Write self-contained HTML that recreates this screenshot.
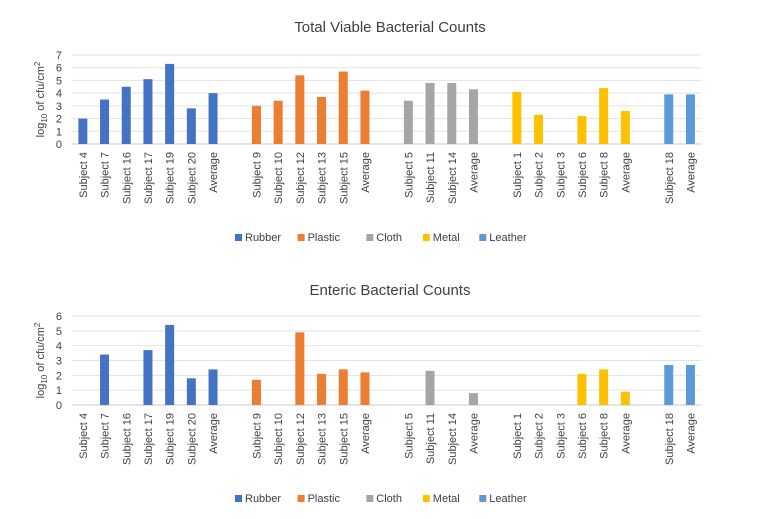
<!DOCTYPE html>
<html><head><meta charset="utf-8"><style>
body{margin:0;background:#fff;font-family:"Liberation Sans",sans-serif}
</style></head><body>
<svg id="svg" width="759" height="519" style="display:block"></svg>
<script>
const categories=[["Subject 4","Subject 7","Subject 16","Subject 17","Subject 19","Subject 20","Average"],["Subject 9","Subject 10","Subject 12","Subject 13","Subject 15","Average"],["Subject 5","Subject 11","Subject 14","Average"],["Subject 1","Subject 2","Subject 3","Subject 6","Subject 8","Average"],["Subject 18","Average"]];
const groupNames=["Rubber","Plastic","Cloth","Metal","Leather"];
const totalValues=[[2.0,3.5,4.5,5.1,6.3,2.8,4.0],[3.0,3.4,5.4,3.7,5.7,4.2],[3.4,4.8,4.8,4.3],[4.1,2.3,0,2.2,4.4,2.6],[3.9,3.9]];
const entericValues=[[0,3.4,0,3.7,5.4,1.8,2.4],[1.7,0,4.9,2.1,2.4,2.2],[0,2.3,0,0.8],[0,0,0,2.1,2.4,0.9],[2.7,2.7]];
const totalTicks=[0,1,2,3,4,5,6,7];
const entericTicks=[0,1,2,3,4,5,6];
const colors=["#4472C4","#ED7D31","#A5A5A5","#FFC000","#5B9BD5"];
const NS="http://www.w3.org/2000/svg";
const svg=document.getElementById('svg');
function mk(tag,attrs,parent,text){const e=document.createElementNS(NS,tag);for(const k in attrs)e.setAttribute(k,attrs[k]);if(text!=null)e.textContent=text;(parent||svg).appendChild(e);return e;}
const left=72,step=21.7;
function xCenter(slot){return left+step*(slot+0.5);}
function drawChart(title,titleY,values,ticks,y0,yTop,legendY,name){
  const g=mk('g',{});
  
  
  const maxV=ticks[ticks.length-1];
  const y=v=>y0-(y0-yTop)*v/maxV;
  const t=mk('text',{x:390,y:titleY,'text-anchor':'middle','font-size':15,fill:'#404040'},g,title);
  
  
  ticks.forEach(v=>{
    const l=mk('line',{x1:left,x2:left+29*step,y1:y(v),y2:y(v),stroke:v===0?'#c8c8c8':'#e2e2e2','stroke-width':1},g);
    
    
    const tl=mk('text',{x:62,y:y(v)+4,'text-anchor':'end','font-size':11,fill:'#404040'},g,String(v));
    
    
  });
  const ax=mk('text',{transform:`translate(44,${(y0+yTop)/2}) rotate(-90)`,'text-anchor':'middle','font-size':11,fill:'#404040'},g);
  
  
  ax.innerHTML='log<tspan font-size="8" dy="3">10</tspan><tspan dy="-3"> of cfu/cm</tspan><tspan font-size="8" dy="-4">2</tspan>';
  let slot=0;
  categories.forEach((cats,gi)=>{
    cats.forEach((c,ci)=>{
      const cx=xCenter(slot),v=values[gi][ci];
      if(v>0){const b=mk('rect',{x:cx-4.5,y:y(v),width:9,height:y0-y(v),fill:colors[gi]},g);
        
        }
      const cl=mk('text',{transform:`translate(${cx+4},${y0+8}) rotate(-90)`,'text-anchor':'end','font-size':11,fill:'#404040'},g,c);
      
      
      slot++;
    });
    slot++;
  });
  let lx=235;
  groupNames.forEach((n,i)=>{
    const le=mk('g',{},g);
    
    
    mk('rect',{x:lx,y:legendY-7,width:7,height:7,fill:colors[i]},le);
    mk('text',{x:lx+10,y:legendY,'font-size':11,fill:'#404040'},le,n);
    lx+=10+n.length*6.1+16;
  });
}
drawChart("Total Viable Bacterial Counts",32,totalValues,totalTicks,144,55,241,"total-viable-chart");
drawChart("Enteric Bacterial Counts",295,entericValues,entericTicks,405,316,502,"enteric-chart");
</script>
</body></html>
